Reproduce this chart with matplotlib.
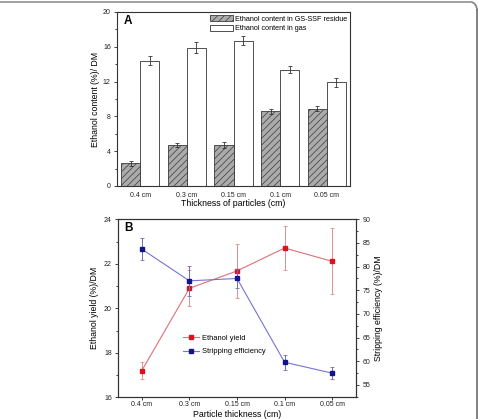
import matplotlib
matplotlib.use('Agg')
import matplotlib.pyplot as plt
import numpy as np
from matplotlib.lines import Line2D
from matplotlib.patches import Arc
from matplotlib.ticker import MultipleLocator

plt.rcParams['font.family'] = ['Liberation Sans', 'DejaVu Sans']
plt.rcParams['hatch.linewidth'] = 0.5

categories = ['0.4 cm', '0.3 cm', '0.15 cm', '0.1 cm', '0.05 cm']
residue = [2.6, 4.7, 4.7, 8.57, 8.9]
residue_err = [0.27, 0.2, 0.3, 0.25, 0.3]
gas = [14.42, 15.9, 16.7, 13.38, 11.9]
gas_err = [0.5, 0.65, 0.5, 0.4, 0.55]

yield_vals = [17.2, 20.9, 21.68, 22.71, 22.11]
yield_err = [0.4, 0.8, 1.2, 1.0, 1.48]
strip_vals = [83.7, 77.0, 77.5, 59.8, 57.5]
strip_err = [2.3, 3.1, 2.0, 1.6, 1.2]

TICK = 5.0
LAB = 6.3
SPC = '#333333'

fig = plt.figure(figsize=(4.78, 4.19), dpi=100)

# frame of the source figure
fig.add_artist(Line2D([0, 0.985], [0.995, 0.995], transform=fig.transFigure, color='#999999', lw=1.3))
fig.add_artist(Line2D([0.998, 0.998], [0.0, 0.975], transform=fig.transFigure, color='#777777', lw=1.3))
fig.add_artist(Arc((0.985, 0.975), 0.026, 0.04, theta1=0, theta2=90, transform=fig.transFigure,
                   color='#888888', lw=1.3))


def style(ax):
    for s in ax.spines.values():
        s.set_linewidth(0.8)
        s.set_color(SPC)
    ax.tick_params(which='both', direction='out', labelsize=TICK, colors='#222222', width=0.6)
    ax.tick_params(which='major', length=2.5, pad=2)
    ax.tick_params(which='minor', length=1.5)


# ---------------- Panel A ----------------
axA = fig.add_axes([0.2448, 0.5561, 0.4874, 0.4153])
x = np.arange(len(categories))
w = 0.41
ekw = dict(ecolor='#333333', elinewidth=0.6, capsize=1.5, capthick=0.6)
axA.bar(x - w / 2, residue, w, yerr=residue_err, facecolor='#ababab', edgecolor='#3a3a3a',
        hatch='/////', lw=0.6, error_kw=ekw, label='Ethanol content in GS-SSF residue')
axA.bar(x + w / 2, gas, w, yerr=gas_err, facecolor='white', edgecolor='#333333',
        lw=0.6, error_kw=ekw, label='Ethanol content in gas')
axA.set_xlim(-0.5, len(categories) - 0.5)
axA.set_ylim(0, 20)
axA.yaxis.set_major_locator(MultipleLocator(4))
axA.yaxis.set_minor_locator(MultipleLocator(2))
axA.set_xticks(x)
axA.set_xticklabels(categories)
style(axA)
axA.tick_params(axis='x', length=0, pad=4)
axA.set_xlabel('Thickness of particles (cm)', fontsize=LAB)
axA.xaxis.set_label_coords(0.5, -0.075)
axA.set_ylabel('Ethanol content (%)/ DM', fontsize=LAB)
axA.yaxis.set_label_coords(-0.072, 0.5)
axA.text(0.028, 0.985, 'A', transform=axA.transAxes, fontsize=8.5, fontweight='bold', va='top')
axA.legend(loc='upper right', bbox_to_anchor=(1.01, 1.01), frameon=False, fontsize=5.2,
           handlelength=3.2, handleheight=0.9, handletextpad=0.3, labelspacing=0.25, borderaxespad=0.3)

# ---------------- Panel B ----------------
axB = fig.add_axes([0.2469, 0.0518, 0.4979, 0.4248])
axB2 = axB.twinx()
red_line, red_mk = '#dd7077', '#e0101f'
blue_line, blue_mk = '#7575cc', '#14148a'
axB.errorbar(x, yield_vals, yerr=yield_err, color=red_line, lw=0.8, marker='s', ms=3.3,
             mfc=red_mk, mec=red_mk, ecolor='#e08e94', elinewidth=0.7, capsize=1.5, capthick=0.6)
axB2.errorbar(x, strip_vals, yerr=strip_err, color=blue_line, lw=0.8, marker='s', ms=3.3,
              mfc=blue_mk, mec=blue_mk, ecolor='#6f6fb0', elinewidth=0.7, capsize=1.5, capthick=0.6)
axB.set_xlim(-0.5, len(categories) - 0.5)
axB.set_ylim(16, 24)
axB.yaxis.set_major_locator(MultipleLocator(2))
axB.yaxis.set_minor_locator(MultipleLocator(1))
axB2.set_ylim(52.4, 90)
axB2.yaxis.set_major_locator(MultipleLocator(5))
axB2.yaxis.set_minor_locator(MultipleLocator(2.5))
axB.set_xticks(x)
axB.set_xticklabels(categories)
style(axB)
style(axB2)
axB.tick_params(axis='x', length=2, pad=1)
axB.set_xlabel('Particle thickness (cm)', fontsize=LAB, va='center')
axB.xaxis.set_label_coords(0.5, -0.094)
axB.set_ylabel('Ethanol yield (%)/DM', fontsize=LAB)
axB.yaxis.set_label_coords(-0.079, 0.5)
axB2.set_ylabel('Stripping efficiency (%)/DM', fontsize=LAB)
axB2.yaxis.set_label_coords(1.076, 0.5)
axB.text(0.028, 0.985, 'B', transform=axB.transAxes, fontsize=8.5, fontweight='bold', va='top')
handles = [Line2D([], [], color=red_line, lw=0.8, marker='s', ms=3.3, mfc=red_mk, mec=red_mk),
           Line2D([], [], color=blue_line, lw=0.8, marker='s', ms=3.3, mfc=blue_mk, mec=blue_mk)]
axB2.legend(handles, ['Ethanol yield', 'Stripping efficiency'], loc='upper left',
            bbox_to_anchor=(0.26, 0.37), frameon=False, fontsize=5.4, handlelength=2.2,
            handletextpad=0.3, labelspacing=0.85, borderaxespad=0)

fig.savefig('out.png', dpi=100)
